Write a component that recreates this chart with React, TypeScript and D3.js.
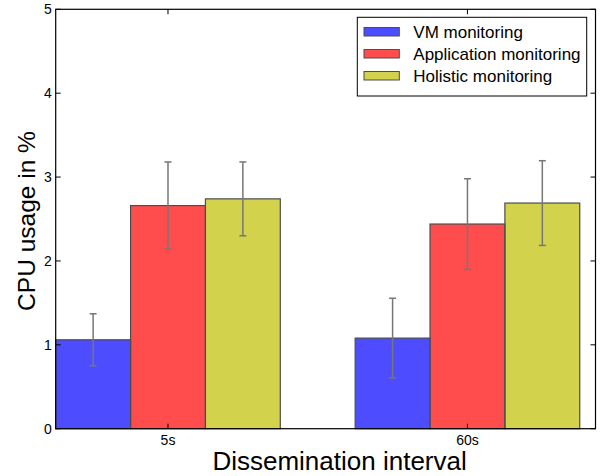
import React from "react";
import * as d3 from "d3";

const categories = ["5s", "60s"];
const seriesNames = ["VM monitoring", "Application monitoring", "Holistic monitoring"];
const seriesColors = ["#4d4dff", "#ff4d4d", "#d2d24d"];
const vmValues = [1.06, 1.08];
const appValues = [2.66, 2.44];
const holisticValues = [2.74, 2.69];
const vmErr = [0.31, 0.475];
const appErr = [0.52, 0.54];
const holisticErr = [0.44, 0.505];
const yTicks = [0, 1, 2, 3, 4, 5];

export default function App() {
  const W = 605, H = 476;
  const left = 55.7, right = 595.5, top = 9.3, bottom = 428.7;
  const x = d3.scaleLinear().domain([-0.375, 1.4276]).range([left, right]);
  const y = d3.scaleLinear().domain([0, 5]).range([bottom, top]);
  const bw = 0.25;
  const values = [vmValues, appValues, holisticValues];
  const errs = [vmErr, appErr, holisticErr];
  const font = "'Liberation Sans', Arial, sans-serif";

  return (
    <svg width={W} height={H} style={{ position: "absolute", left: 0, top: 0 }} fontFamily={font}>
      <rect x={0} y={0} width={W} height={H} fill="#fff" />
      {values.map((vals, s) =>
        vals.map((v, i) => {
          const x0 = x(i - 0.375 + s * bw);
          const x1 = x(i - 0.375 + (s + 1) * bw);
          return (
            <rect key={`b${s}-${i}`} x={x0} y={y(v)} width={x1 - x0} height={y(0) - y(v)}
              fill={seriesColors[s]} />
          );
        })
      )}
      {values.map((vals, s) =>
        vals.map((v, i) => {
          const x0 = x(i - 0.375 + s * bw);
          const x1 = x(i - 0.375 + (s + 1) * bw);
          return (
            <rect key={`e${s}-${i}`} x={x0} y={y(v)} width={x1 - x0} height={y(0) - y(v)}
              fill="none" stroke="#4d4d4d" strokeWidth={1.2} />
          );
        })
      )}
      {values.map((vals, s) =>
        vals.map((v, i) => {
          const cx = x(i - 0.375 + (s + 0.5) * bw);
          const e = errs[s][i];
          return (
            <g key={`err${s}-${i}`} stroke="#777" strokeWidth={1.5}>
              <line x1={cx} x2={cx} y1={y(v - e)} y2={y(v + e)} />
              <line x1={cx - 3.5} x2={cx + 3.5} y1={y(v - e)} y2={y(v - e)} />
              <line x1={cx - 3.5} x2={cx + 3.5} y1={y(v + e)} y2={y(v + e)} />
            </g>
          );
        })
      )}
      <rect x={left} y={top} width={right - left} height={bottom - top} fill="none" stroke="#000" strokeWidth={1.2} />
      {yTicks.map((t) => (
        <g key={`yt${t}`}>
          <line x1={left} x2={left + 5} y1={y(t)} y2={y(t)} stroke="#000" />
          <line x1={right} x2={right - 5} y1={y(t)} y2={y(t)} stroke="#000" />
          <text x={left - 4} y={y(t)} dy="0.35em" textAnchor="end" fontSize={14}>{t}</text>
        </g>
      ))}
      {categories.map((c, i) => (
        <g key={`xt${c}`}>
          <line x1={x(i)} x2={x(i)} y1={bottom} y2={bottom - 5} stroke="#000" />
          <line x1={x(i)} x2={x(i)} y1={top} y2={top + 5} stroke="#000" />
          <text x={x(i)} y={444.5} textAnchor="middle" fontSize={14}>{c}</text>
        </g>
      ))}
      <text x={(left + right) / 2 + 14} y={470} textAnchor="middle" fontSize={26}>Dissemination interval</text>
      <text transform={`translate(35,${221}) rotate(-90)`} textAnchor="middle" fontSize={24.5}>CPU usage in %</text>
      <g>
        <rect x={357.3} y={17.3} width={229.4} height={78.7} fill="#fff" stroke="#000" strokeWidth={1} />
        {seriesNames.map((n, s) => (
          <g key={`lg${s}`}>
            <rect x={364} y={27.5 + s * 22} width={35.3} height={8.5} fill={seriesColors[s]} stroke="#4d4d4d" strokeWidth={1} />
            <text x={413.3} y={31.8 + s * 22} dy="0.35em" fontSize={17}>{n}</text>
          </g>
        ))}
      </g>
    </svg>
  );
}
